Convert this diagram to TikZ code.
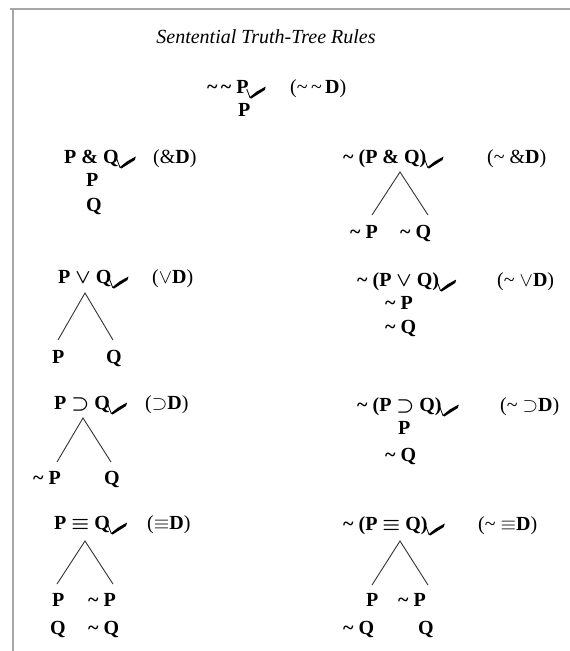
\documentclass[tikz,border=0pt]{standalone}
\usepackage{fix-cm}
\usepackage{fontspec}
\setmainfont{Liberation Serif}
\newcommand{\tld}{\textasciitilde}
\newcommand{\mvee}{{\boldmath$\vee$}}
\newcommand{\msup}{{\boldmath$\supset$}}
\newcommand{\mequ}{{\boldmath$\equiv$}}
\newcommand{\rvee}{$\vee$}
\newcommand{\rsup}{$\supset$}
\newcommand{\requ}{$\equiv$}
\tikzset{
  txt/.style={inner sep=0pt, anchor=base west, font=\bfseries\fontsize{20}{22}\selectfont},
  lbl/.style={inner sep=0pt, anchor=base west, font=\fontsize{20}{22}\selectfont},
  leg/.style={line width=0.9pt, draw=black!80},
  frame/.style={line width=2pt, draw=black!35},
  chk/.pic={
    \draw[line width=0.8pt] (-1,-4) -- (2,4);
    \fill (1.5,4.5) -- (9,-1.5) -- (18,-6.5) -- (17,-3) -- (3.5,5.5) -- cycle;
  }
}
\begin{document}
\begin{tikzpicture}[x=1pt,y=-1pt]
\useasboundingbox (0,0) rectangle (570,651);
\fill[white] (0,0) rectangle (570,651);
\draw[frame] (10,9) -- (570,9);
\draw[frame] (13,8) -- (13,651);

\node[inner sep=0pt, font=\itshape\fontsize{20}{22}\selectfont] (title) at (266,37) {Sentential Truth-Tree Rules};

% Row 1
\node[txt] (r1) at (207,93) {\tld\,\tld\ P};
\pic at ([xshift=-1pt]r1.base east) {chk};
\node[lbl] (r1r) at (290,93) {(\tld\,\tld\,\textbf{D})};
\node[txt] (r1a) at (238,116) {P};

% Row 2 left
\node[txt] (c2) at (64,163) {P \& Q};
\pic at ([xshift=-1pt]c2.base east) {chk};
\node[lbl] (c2r) at (153,163) {(\&\textbf{D})};
\node[txt] (c2a) at (86,186) {P};
\node[txt] (c2b) at (86,211) {Q};

% Row 2 right
\node[txt] (nc) at (343,163) {\tld\ (P \& Q)};
\pic at ([xshift=-1pt]nc.base east) {chk};
\node[lbl] (ncr) at (487,163) {(\tld\ \&\textbf{D})};
\coordinate (nca) at (400,172);
\node[txt] (ncl) at (350,238) {\tld\ P};
\node[txt] (ncm) at (400,238) {\tld\ Q};
\coordinate (ncl1) at (372,215);
\coordinate (ncm1) at (428,215);
\draw[leg] (ncl1) -- (nca) -- (ncm1);

% Row 3 left
\node[txt] (d) at (58,283) {P \mvee\ Q};
\pic at ([xshift=-1pt]d.base east) {chk};
\node[lbl] (dr) at (152,283) {(\rvee\textbf{D})};
\coordinate (da) at (85,293);
\coordinate (dl1) at (58,340);
\coordinate (dm1) at (113,340);
\node[txt] (dl) at (52,363) {P};
\node[txt] (dm) at (106,363) {Q};
\draw[leg] (dl1) -- (da) -- (dm1);

% Row 3 right
\node[txt] (nd) at (357,286) {\tld\ (P \mvee\ Q)};
\pic at ([xshift=-1pt]nd.base east) {chk};
\node[lbl] (ndr) at (497,286) {(\tld\ \rvee\textbf{D})};
\node[txt] (nda) at (385,309) {\tld\ P};
\node[txt] (ndb) at (385,333) {\tld\ Q};

% Row 4 left
\node[txt] (i) at (54,409) {P \msup\ Q};
\pic at ([xshift=-1pt]i.base east) {chk};
\node[lbl] (ir) at (145,409) {(\rsup\textbf{D})};
\coordinate (ia) at (83,418);
\coordinate (il1) at (57,462);
\coordinate (im1) at (111,462);
\node[txt] (il) at (33,484) {\tld\ P};
\node[txt] (im) at (104,484) {Q};
\draw[leg] (il1) -- (ia) -- (im1);

% Row 4 right
\node[txt] (ni) at (357,411) {\tld\ (P \msup\ Q)};
\pic at ([xshift=-1pt]ni.base east) {chk};
\node[lbl] (nir) at (500,411) {(\tld\ \rsup\textbf{D})};
\node[txt] (nia) at (398,434) {P};
\node[txt] (nib) at (385,461) {\tld\ Q};

% Row 5 left
\node[txt] (b) at (54,529) {P \mequ\ Q};
\pic at ([xshift=-1pt]b.base east) {chk};
\node[lbl] (br) at (147,529) {(\requ\textbf{D})};
\coordinate (ba) at (85,541);
\coordinate (bl1) at (57,584);
\coordinate (bm1) at (113,584);
\node[txt] (bl) at (52,606) {P};
\node[txt] (bm) at (88,606) {\tld\ P};
\node[txt] (bl2) at (50,634) {Q};
\node[txt] (bm2) at (88,634) {\tld\ Q};
\draw[leg] (bl1) -- (ba) -- (bm1);

% Row 5 right
\node[txt] (nb) at (343,530) {\tld\ (P \mequ\ Q)};
\pic at ([xshift=-1pt]nb.base east) {chk};
\node[lbl] (nbr) at (478,530) {(\tld\ \requ\textbf{D})};
\coordinate (nba) at (400,541);
\coordinate (nbl1) at (372,585);
\coordinate (nbm1) at (428,585);
\node[txt] (nbl) at (366,606) {P};
\node[txt] (nbm) at (398,606) {\tld\ P};
\node[txt] (nbl2) at (343,634) {\tld\ Q};
\node[txt] (nbm2) at (418,634) {Q};
\draw[leg] (nbl1) -- (nba) -- (nbm1);
\end{tikzpicture}
\end{document}
